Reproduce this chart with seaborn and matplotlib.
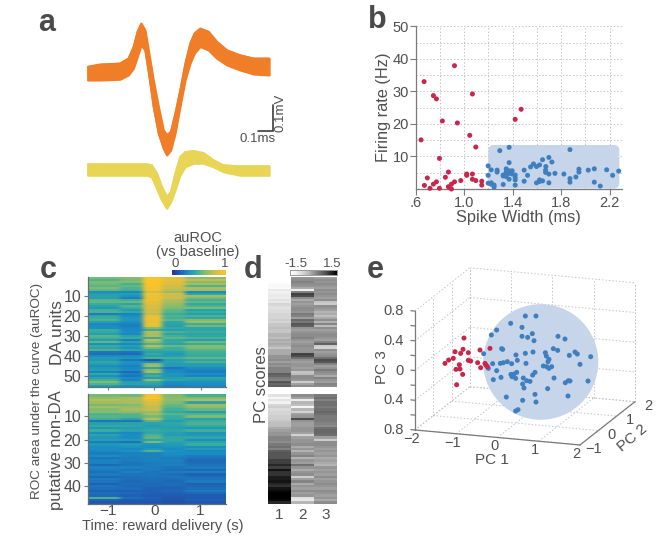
import numpy as np
import matplotlib
matplotlib.use("Agg")
import matplotlib.pyplot as plt
from matplotlib.colors import LinearSegmentedColormap
from matplotlib.patches import FancyBboxPatch, Ellipse
import seaborn as sns

sns.set_theme(style="white")
plt.rcParams['font.family'] = ['Liberation Sans', 'DejaVu Sans']

W, H = 664, 543
TXT = '#4f4f4f'
AXC = '#7a7a7a'
RED = '#c9264c'
BLUE = '#3f7fc0'
PATCH = '#c6d5ea'

# a: waveforms, upper and lower edge of the band of traces
wave_t = [0, .073, .19, .239, .269, .292, .314, .337, .357, .386, .416, .445, .465, .488, .514, .543,
          .573, .602, .627, .661, .71, .759, .818, .896, .975, 1.067]
orange_up = [.027, .036, .04, .06, .107, .167, .2, .173, .093, -.027, -.133, -.227, -.247, -.233, -.16, -.067,
             .04, .12, .16, .18, .167, .127, .093, .073, .06, .06]
orange_lo = [-.027, -.027, -.024, -.007, .02, .067, .113, .093, .007, -.133, -.24, -.3, -.327, -.307, -.24, -.133,
             -.027, .04, .08, .107, .093, .06, .033, .013, -.003, -.007]
yellow_t = [0, .347, .376, .406, .435, .465, .488, .514, .543, .573, .622, .68, .739, .798, .896, 1.067]
yellow_up = [.024, .024, .02, -.013, -.067, -.107, -.087, -.013, .053, .073, .077, .069, .04, .02, .016, .016]
yellow_lo = [-.021, -.021, -.027, -.073, -.12, -.153, -.127, -.08, -.02, .013, .027, .027, .013, -.007, -.021, -.021]
yellow_base = -.387

# b: spike width vs firing rate
red_width = [.669, .92, .746, .771, 1.068, 1.47, 1.421, .82, .944, .644, 1.046, 1.096, .796, .87, .696, .672, .746,
             .771, .718, .796, .845, .92, .895, .87, .895, .878, .972, 1.021, 1.021, 1.068, 1.068, 1.096, 1.145, 1.145]
red_rate = [33.0, 37.9, 28.7, 27.7, 29.2, 24.5, 21.4, 20.9, 20.3, 15.1, 16.5, 12.9, 9.4, 5.2, 3.4, 1.1, 1.5,
            2.2, .2, .2, 3.6, 2.2, 1.5, .7, 0, .4, 2.6, 4.6, 4.2, 4.6, 3.0, 2.6, 2.4, 1.2]
blue_width = [1.294, 1.371, 1.873, 1.198, 1.223, 1.272, 1.272, 1.198, 1.371, 1.622, 1.572, 1.548, 1.597, 1.647, 1.699,
              1.724, 1.674, 1.672, 1.672, 1.699, 1.749, 1.823, 1.495, 1.523, 1.947, 1.947, 2.074, 2.024, 2.176, 2.275,
              2.225, 1.922, 1.873, 1.873, 2.074, 2.123, 1.495, 1.322, 1.371, 1.421, 1.421, 1.198, 1.223, 1.247, 1.247,
              1.322, 1.347, 1.347, 1.371, 1.396, 1.396, 1.371, 1.347, 1.322, 1.347, 1.421, 1.421, 1.622, 1.597, 1.622,
              1.647, 1.699, 1.223]
blue_rate = [11.8, 12.8, 12.1, 7.1, 5.9, 5.8, 5.2, 4.2, 8.1, 7.4, 7.7, 6.8, 6.9, 9.0, 9.7,
             8.3, 6.9, 5.8, 5.1, 4.6, 4.8, 4.6, 5.8, 4.2, 6.1, 5.2, 6.2, 5.8, 5.9, 5.5,
             4.2, 3.7, 3.2, 2.1, 2.1, .9, 2.4, 1.4, 3.0, 2.8, 1.2, 1.8, 1.5, 1.2, .6,
             4.3, 6.2, 5.3, 5.6, 5.6, 4.6, 4.8, 4.6, 4.0, 3.8, 4.3, 3.5, 2.8, 1.9, 2.3,
             2.5, 1.9, 1.9]

# c: auROC per unit, one value per time segment (percent)
da_pre_a = [58, 50, 60, 58, 52, 60, 54, 30, 36, 40, 38, 52, 55, 46, 40, 35, 48, 50, 24, 42, 46, 50, 38, 28, 30, 30, 46, 44,
            38, 52, 48, 36, 55, 30, 46, 40, 50, 22, 20, 30, 36, 34, 42, 38, 30, 34, 38, 26, 44, 30, 40, 48, 60, 50, 35]
da_pre_b = [62, 58, 62, 48, 55, 50, 48, 28, 38, 32, 25, 48, 56, 40, 52, 46, 36, 44, 26, 30, 34, 34, 30, 26, 24, 28, 28, 30,
            28, 40, 46, 24, 40, 28, 38, 32, 42, 22, 18, 30, 34, 22, 32, 30, 26, 28, 30, 18, 26, 22, 30, 26, 38, 40, 30]
da_early = [100, 100, 100, 98, 97, 96, 95, 82, 96, 92, 92, 94, 88, 88, 82, 84, 80, 82, 76, 92, 94, 92, 90, 94, 92, 60, 45, 74,
            70, 72, 45, 78, 64, 50, 76, 58, 44, 40, 44, 38, 50, 12, 30, 62, 70, 40, 66, 72, 40, 48, 36, 66, 44, 40, 34]
da_mid = [88, 90, 86, 86, 80, 80, 75, 65, 82, 78, 80, 72, 70, 66, 62, 60, 54, 52, 46, 50, 48, 54, 42, 40, 38, 44, 38, 50,
          40, 48, 54, 42, 44, 40, 56, 46, 46, 38, 34, 38, 48, 38, 40, 36, 36, 22, 28, 30, 34, 32, 38, 42, 30, 28, 26]
da_late = [62, 78, 62, 70, 50, 72, 70, 28, 40, 72, 58, 48, 55, 42, 50, 60, 38, 45, 38, 50, 42, 62, 68, 46, 58, 40, 42, 45,
           40, 42, 50, 36, 58, 44, 62, 60, 52, 48, 46, 44, 55, 40, 50, 38, 36, 30, 26, 24, 30, 26, 42, 38, 32, 30, 28]
nd_pre_a = [58, 66, 74, 68, 58, 70, 60, 62, 50, 52, 48, 22, 38, 44, 34, 46, 30, 40, 34, 38, 24, 34, 30, 30,
            28, 24, 30, 22, 26, 26, 18, 26, 24, 20, 24, 18, 24, 22, 16, 22, 20, 16, 20, 18, 50, 16, 12]
nd_pre_b = [56, 70, 72, 70, 60, 66, 70, 64, 52, 50, 40, 22, 40, 42, 36, 40, 28, 30, 30, 36, 20, 36, 32, 28,
            32, 26, 26, 24, 24, 22, 22, 26, 22, 26, 22, 20, 20, 18, 20, 18, 20, 16, 18, 16, 20, 14, 12]
nd_early = [95, 100, 92, 84, 82, 76, 78, 66, 70, 58, 76, 52, 40, 36, 40, 44, 42, 50, 54, 40, 60, 32, 30, 34,
            52, 26, 26, 26, 26, 24, 24, 24, 24, 22, 22, 22, 20, 20, 18, 18, 16, 16, 16, 14, 16, 14, 12]
nd_mid = [60, 62, 64, 60, 55, 52, 48, 44, 52, 46, 44, 36, 42, 40, 38, 42, 38, 36, 42, 44, 40, 36, 32, 30,
          32, 30, 28, 24, 26, 24, 26, 22, 20, 24, 20, 22, 20, 18, 20, 18, 16, 18, 16, 14, 12, 12, 10]
nd_late = [48, 60, 75, 40, 68, 64, 55, 36, 50, 60, 38, 46, 50, 44, 34, 48, 32, 34, 42, 30, 40, 46, 30, 36,
           28, 30, 24, 22, 18, 20, 22, 24, 18, 26, 16, 20, 22, 24, 16, 18, 20, 24, 18, 14, 14, 16, 12]
segment_bins = [7, 5, 4, 5, 9]
heat_ticks_y_da = [10, 20, 30, 40, 50]
heat_ticks_y_nd = [10, 20, 30, 40]
time_ticks = [-1, 0, 1]
time_labels = ['\u22121', '0', '1']

# d: PC scores
da_pc1 = [-1.5, -1.5, -1.5, -1.4, -1.3, -1.4, -1.0, -1.2, -1.1, -1.0, -1.1, -.9, -1.0, -.7, -.8, -.9, -.8, -.8, -.7, -.7,
          -.7, -.6, -.7, -.5, -.5, -.4, -.5, -.5, -.3, -.3, -.4, -.2, -.3, -.2, -.3, -.5, -.2, -.2, -.2, 0,
          0, .1, -.1, .1, 0, .2, .2, .2, .6, .5, .3, .2, .7, .5, .6]
da_pc2 = [0, .1, .2, .1, 0, -.2, -1.2, .2, .9, .8, .1, -.2, 0, -.1, 0, .1, .1, 0, .3, .2,
          -.1, .5, .3, .7, .6, 0, -.1, 0, .1, .1, .2, 0, -.1, 0, .1, 0, 0, 0, .9, .8,
          .4, 0, -.1, 0, 0, -.1, 0, -.5, -.4, .1, .1, 0, -.6, -.1, .1]
da_pc3 = [-.1, .1, 0, .1, 0, -.1, .1, 0, .1, 0, -.1, .1, -.5, -.6, .1, 0, -.1, -.3, -.2, -.4,
          -.2, .1, -.3, .2, -.4, .1, -.1, 0, .1, .1, 0, -.1, .2, .6, -.6, -.7, .1, -.1, 0, .1,
          .4, .8, .7, .2, -.1, 0, .3, .1, 0, -.2, .2, 0, -.1, .2, .1]
nd_pc1 = [-.9, -1.3, -.9, -1.2, -.7, -.6, -.8, -.7, -.7, -.6, -.6, -.5, -.4, -.4, -.2, -.1, 0, 0, .2, .2,
          .1, .3, .4, .2, .6, .7, .7, .7, .9, .9, 1.1, .9, 1.3, 1.0, 1.0, 1.2, 1.2, 1.3, 1.1, 1.0,
          1.3, 1.4, 1.5, 1.5, 1.5, 1.4, 1.1]
nd_pc2 = [.1, -.1, -1.1, -.3, -.4, -1.3, -.3, -.7, -.1, 0, .8, 0, -.1, -.1, 0, 0, -.1, -.7, -.1, 0,
          0, .1, -.2, 0, -.3, 0, .2, -.3, 0, -.1, .4, 0, -.2, 0, .1, -.6, -.1, .2, -.2, 0,
          -.1, .1, -.1, 0, -.9, -1.0, -.3]
nd_pc3 = [.3, .4, .2, .4, .4, .3, .4, .5, .4, .3, .3, .3, .2, .1, .4, .5, .5, .4, -.1, -.6,
          .1, .1, 0, -.1, 0, -.1, 0, -.2, -.1, -.2, -.3, 0, -.1, 0, -.1, .1, -.1, 0, .1, 0,
          -.1, .1, 0, -.1, 0, -.2, .1]

# e: points in the view plane of the 3d box
view_blue_x = [.319, .675, .933, -.02, .594, -.149, .594, .731, .844, .885, 1.467, 1.636, .101, .125, -.335, .448, .675,
               .861, 1.16, 1.184, 1.354, 1.459, 1.741, 1.879, 1.935, 2.259, 2.0, .481, 1.248, 1.224, 1.111, 1.192, 1.248,
               1.313, .691, -.117, .069, .141, .238, .343, -.222, -.02, .465, .327, .085, -.101, .352, .4, .44, .626,
               .707, .788, .853, .909, 1.37, 1.644, 1.717, 1.758, 2.194, 1.216, .642, .61, .214, .61, .909, .933, 1.709,
               .44, .497]
view_blue_y = [.635, .733, .733, .545, .581, .478, .46, .446, .496, .401, .46, .424, .294, .285, .226, .209, .231,
               .249, .24, .195, .294, .271, .204, .249, .222, .186, .083, .137, .15, .119, .061, .052, .029,
               .052, .096, .092, .096, .105, .119, .092, .029, -.002, -.025, -.052, -.092, -.123, -.083, -.047, -.105, -.101,
               -.137, -.146, -.061, -.025, -.101, -.164, -.137, -.141, -.141, -.244, -.235, -.182, -.357, -.401, -.321, -.424, -.343,
               -.545, -.527]
view_red_x = [-.812, -1.03, -.836, -.893, -.707, -.424, -.182, -1.071, -1.184, -1.273, -.707, -.651, -.481, -.408, -.925,
              -1.006, -.909, -.844, -.99, -.303, -.279, -.246]
view_red_y = [.437, .253, .285, .231, .24, .276, .298, .164, .141, .096, .137, .128, .105, .038, .078,
              .016, .02, -.052, -.191, .096, .074, .052]
pc1_ticks = [-2, -1, 0, 1, 2]
pc2_ticks = [-1, 0, 1, 2]
pc3_ticks = [-.8, -.4, 0, .4, .8]
pc3_labels = ['0.8', '0.4', '0', '0.4', '0.8']


def px_axes(fig, x0, y0, x1, y1):
    return fig.add_axes([x0 / W, 1 - y1 / H, (x1 - x0) / W, (y1 - y0) / H])


def px_text(fig, x, y, s, size=10, **kw):
    kw.setdefault('ha', 'center')
    kw.setdefault('va', 'center')
    kw.setdefault('color', TXT)
    fig.text(x / W, 1 - y / H, s, fontsize=size, **kw)


def proj(pc1, pc2, pc3):
    x = pc1 + .444 * (pc2 + 1)
    y = pc3 - .0504 * (pc1 + 2) + .194 * (pc2 + 1)
    return x, y


def segments(*cols):
    return np.column_stack([np.repeat(np.array(c)[:, None] / 100, n, axis=1) for c, n in zip(cols, segment_bins)])


def soften(nx, ny):
    # the printed heatmaps are soft, blur the drawn cells only
    def kernel(n):
        if n == 0:
            return np.array([1.0])
        r = int(np.ceil(2 * n))
        k = np.arange(-r, r + 1)
        k = np.exp(-.5 * (k / n) ** 2)
        return k / k.sum()

    def run(img, dpi):
        out = img.copy()
        for axis, n in [(1, nx), (0, ny)]:
            k = kernel(n)
            pad = len(k) // 2
            widths = [(0, 0)] * 3
            widths[axis] = (pad, pad)
            big = np.pad(out, widths, mode='edge')
            out = np.apply_along_axis(lambda v: np.convolve(v, k, mode='valid'), axis, big)
        return out, 0, 0
    return run


fig = plt.figure(figsize=(W / 100, H / 100), dpi=100)

# panel a
ax = px_axes(fig, 80, 10, 280, 220)
t = np.array(wave_t)
tick = np.array(yellow_t)
ORANGE = '#f07d28'
YELLOW = '#e8d455'
for name, xs, up, lo, col, off in [('o', t, orange_up, orange_lo, ORANGE, 0),
                                   ('y', tick, yellow_up, yellow_lo, YELLOW, yellow_base)]:
    up = np.array(up) + off
    lo = np.array(lo) + off
    ax.fill_between(xs, lo, up, color=col, lw=1.5, joinstyle='round')
    sns.lineplot(x=xs, y=up, ax=ax, color=col, lw=1, estimator=None, sort=False)
    sns.lineplot(x=xs, y=lo, ax=ax, color=col, lw=1, estimator=None, sort=False)
ax.set_xlim(-.045, 1.131)
ax.set_ylim(-.587, .253)
ax.axis('off')
# scale bar
ax.plot([1.0, 1.09, 1.09], [-.231, -.231, -.126], color='#3c3c3c', lw=1.2, solid_joinstyle='miter')
px_text(fig, 258, 139, '0.1ms', size=9.5)
px_text(fig, 281, 113, '0.1mV', size=9.5, rotation=90)

# panel b
ax = px_axes(fig, 415.7, 26.3, 621.7, 189)
ax.add_patch(FancyBboxPatch((1.205, .4), 1.07, 12.9, boxstyle='round,pad=0,rounding_size=.04',
                            mutation_aspect=37, fc=PATCH, ec=PATCH, lw=1, zorder=1.5))
sns.scatterplot(x=red_width, y=red_rate, ax=ax, color=RED, s=13, edgecolor='none', clip_on=False, zorder=3, legend=False)
sns.scatterplot(x=blue_width, y=blue_rate, ax=ax, color=BLUE, s=13, edgecolor='none', clip_on=False, zorder=3, legend=False)
ax.set_xlim(.6, 2.3)
ax.set_ylim(0, 50)
ax.set_xticks(np.arange(.6, 2.25, .2), minor=True)
ax.set_yticks(np.arange(5, 51, 5), minor=True)
ax.set_xticks([.6, 1.0, 1.4, 1.8, 2.2], ['.6', '1.0', '1.4', '1.8', '2.2'])
ax.set_yticks([10, 20, 30, 40, 50])
ax.grid(True, which='both', ls=(0, (1.5, 2)), color='#c4c4c4', lw=.7, zorder=0)
ax.set_axisbelow(True)
ax.tick_params(axis='both', which='major', length=4, width=.8, color=AXC, labelcolor=TXT, labelsize=10.5, pad=1, bottom=True, left=True)
ax.tick_params(axis='both', which='minor', length=0)
sns.despine(ax=ax)
for s in ['left', 'bottom']:
    ax.spines[s].set_color(AXC)
    ax.spines[s].set_linewidth(.9)
ax.set_xlabel('Spike Width (ms)', fontsize=11.8, color=TXT, labelpad=0)
ax.set_ylabel('Firing rate (Hz)', fontsize=11.8, color=TXT, labelpad=1)

# panel c
cmap_roc = LinearSegmentedColormap.from_list('roc', [(0, '#30308f'), (.15, '#1f5fb5'), (.3, '#1a8fc4'), (.45, '#35ad9f'),
                                                     (.6, '#7fbc72'), (.8, '#d0bd4a'), (1, '#fcc428')])
da_heat = segments(da_pre_a, da_pre_b, da_early, da_mid, da_late)
nd_heat = segments(nd_pre_a, nd_pre_b, nd_early, nd_mid, nd_late)
cax = px_axes(fig, 171.7, 270, 225.7, 274.5)
for heat, (y0, y1), yt, last in [(da_heat, (277.3, 386.7), heat_ticks_y_da, False),
                                 (nd_heat, (394.3, 503.7), heat_ticks_y_nd, True)]:
    ax = px_axes(fig, 88, y0, 226, y1)
    sns.heatmap(heat, ax=ax, cmap=cmap_roc, vmin=0, vmax=1, cbar=not last, cbar_ax=None if last else cax,
                cbar_kws={'orientation': 'horizontal'}, xticklabels=False, yticklabels=False)
    ax.collections[0].set_agg_filter(soften(2.5, .4))
    ax.set_yticks([v - .5 for v in yt], [str(v) for v in yt], rotation=0)
    ax.set_xticks([(v + 1.43) / 2.98 * 30 for v in time_ticks])
    if last:
        ax.set_xticklabels(time_labels)
    else:
        ax.set_xticklabels([])
    ax.tick_params(axis='y', length=3, width=.8, color=AXC, labelcolor=TXT, labelsize=11.5, pad=2, left=True)
    ax.tick_params(axis='x', length=2.5 if not last else 0, width=.8, color=AXC, labelcolor=TXT, labelsize=11, pad=0, bottom=True)
    for s in ['left', 'bottom']:
        ax.spines[s].set_visible(True)
        ax.spines[s].set_color('#5f6f78')
        ax.spines[s].set_linewidth(.9)
cax.set_xticks([])
cax.set_yticks([])
px_text(fig, 175, 264, '0', size=9.5)
px_text(fig, 225, 264, '1', size=9.5)
px_text(fig, 198, 238, 'auROC', size=10.5)
px_text(fig, 198, 252, '(vs baseline)', size=10.5)
px_text(fig, 37, 391, 'ROC area under the curve (auROC)', size=9.7, rotation=90)
px_text(fig, 57, 333, 'DA units', size=12.5, rotation=90)
px_text(fig, 57, 450, 'putative non-DA', size=12, rotation=90)
px_text(fig, 163, 526, 'Time: reward delivery (s)', size=10.5)

# panel d
cax2 = px_axes(fig, 290, 270, 337.3, 274.5)
for cols, (y0, y1), last in [((da_pc1, da_pc2, da_pc3), (277.3, 386.7), False),
                             ((nd_pc1, nd_pc2, nd_pc3), (394.3, 503.7), True)]:
    ax = px_axes(fig, 268, y0, 337.3, y1)
    sns.heatmap(np.column_stack(cols), ax=ax, cmap='Greys', vmin=-1.5, vmax=1.5, cbar=not last,
                cbar_ax=None if last else cax2, cbar_kws={'orientation': 'horizontal'},
                xticklabels=False, yticklabels=False)
    ax.collections[0].set_agg_filter(soften(0, .4))
    if last:
        ax.set_xticks([.5, 1.5, 2.5], ['1', '2', '3'])
        ax.tick_params(axis='x', length=0, labelcolor=TXT, labelsize=11, pad=3)
cax2.set_xticks([])
cax2.set_yticks([])
for s in cax2.spines.values():
    s.set_visible(True)
    s.set_color('#9a9a9a')
    s.set_linewidth(.6)
px_text(fig, 296, 264, '-1.5', size=9.5)
px_text(fig, 332, 264, '1.5', size=9.5)
px_text(fig, 261, 385, 'PC scores', size=12, rotation=90)

# panel e
ax = px_axes(fig, 380, 260, 650, 480)
GRID = dict(ls=(0, (1.5, 2)), color='#c4c4c4', lw=.7, zorder=1)


def line3(a, b, **kw):
    xa, ya = proj(*a)
    xb, yb = proj(*b)
    ax.plot([xa, xb], [ya, yb], **kw)


for k in pc1_ticks:
    line3((k, -1, -.8), (k, 2, -.8), **GRID)
    line3((k, 2, -.8), (k, 2, .8), **GRID)
for k in pc2_ticks:
    line3((-2, k, -.8), (2, k, -.8), **GRID)
    line3((-2, k, -.8), (-2, k, .8), **GRID)
for k in pc3_ticks:
    line3((-2, -1, k), (-2, 2, k), **GRID)
    line3((-2, 2, k), (2, 2, k), **GRID)
line3((2, 2, -.8), (2, 2, .8), **GRID)

ax.add_patch(Ellipse((1.048, .115), 2.79, 1.556, fc=PATCH, ec='none', zorder=2))
sns.scatterplot(x=view_blue_x, y=view_blue_y, ax=ax, color=BLUE, s=13, edgecolor='none', zorder=3, legend=False)
sns.scatterplot(x=view_red_x, y=view_red_y, ax=ax, color=RED, s=13, edgecolor='none', zorder=3, legend=False)

AX3 = dict(color=AXC, lw=.9, zorder=4)
line3((-2, -1, -.8), (-2, -1, .8), **AX3)
line3((-2, -1, -.8), (2, -1, -.8), **AX3)
line3((2, -1, -.8), (2, 2, -.8), **AX3)
for k in np.arange(-.8, .81, .2):
    line3((-2.1, -1, k), (-2, -1, k), **AX3)
for k, lab in zip(pc3_ticks, pc3_labels):
    x, y = proj(-2, -1, k)
    ax.annotate(lab, (x, y), xytext=(-8, 0), textcoords='offset points', ha='right', va='center',
                fontsize=10.5, color=TXT)
for k in pc1_ticks:
    x, y = proj(k, -1, -.8)
    ax.annotate(str(k).replace('-', '\u2212'), (x, y), xytext=(-2.5, -6.5), textcoords='offset points', ha='center', va='center',
                fontsize=10.5, color=TXT)
for k in pc2_ticks:
    x, y = proj(2, k, -.8)
    ax.annotate(str(k).replace('-', '\u2212'), (x, y), xytext=(9.5, -3), textcoords='offset points', ha='center', va='center',
                fontsize=10.5, color=TXT)
ax.set_xlim(-2.848, 3.697)
ax.set_ylim(-1.473, 1.487)
ax.axis('off')
px_text(fig, 492, 460, 'PC 1', size=11)
px_text(fig, 632, 438, 'PC 2', size=11, rotation=40)
px_text(fig, 382, 367, 'PC 3', size=11, rotation=90)

# panel letters
for x, y, s in [(47, 23, 'a'), (377, 20, 'b'), (48, 270, 'c'), (253, 270, 'd'), (375, 270, 'e')]:
    px_text(fig, x, y, s, size=22, fontweight='bold', color='#4a4a4a')

fig.savefig('out.png', dpi=100)
